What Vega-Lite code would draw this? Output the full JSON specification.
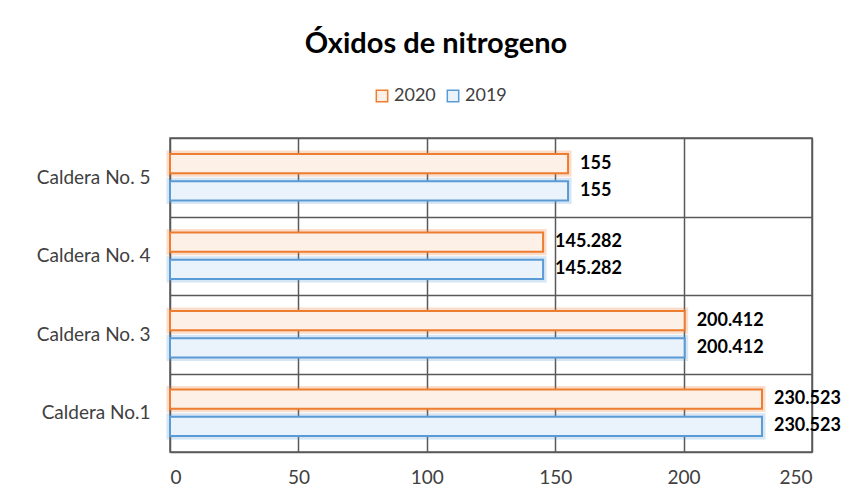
{
  "$schema": "https://vega.github.io/schema/vega-lite/v6.json",
  "width": 642,
  "height": 314,
  "autosize": "none",
  "padding": {"left": 170, "top": 138, "right": 37, "bottom": 46},
  "background": "white",
  "title": {"text": "Óxidos de nitrogeno", "font": "Lato", "fontSize": 29, "fontWeight": "bold", "color": "#000000", "anchor": "middle", "dx": -55, "offset": 28},
  "data": {"values": [
    {"caldera": "Caldera No. 5", "year": "2020", "value": 155, "label": "155"},
    {"caldera": "Caldera No. 5", "year": "2019", "value": 155, "label": "155"},
    {"caldera": "Caldera No. 4", "year": "2020", "value": 145.282, "label": "145.282"},
    {"caldera": "Caldera No. 4", "year": "2019", "value": 145.282, "label": "145.282"},
    {"caldera": "Caldera No. 3", "year": "2020", "value": 200.412, "label": "200.412"},
    {"caldera": "Caldera No. 3", "year": "2019", "value": 200.412, "label": "200.412"},
    {"caldera": "Caldera No.1", "year": "2020", "value": 230.523, "label": "230.523"},
    {"caldera": "Caldera No.1", "year": "2019", "value": 230.523, "label": "230.523"}
  ]},
  "encoding": {
    "y": {"field": "caldera", "type": "nominal", "sort": ["Caldera No. 5", "Caldera No. 4", "Caldera No. 3", "Caldera No.1"],
      "scale": {"paddingInner": 0, "paddingOuter": 0},
      "axis": {"title": null, "ticks": false, "domain": false, "grid": true, "tickBand": "extent", "gridColor": "#595959", "gridWidth": 1.5, "labelFont": "Lato", "labelFontSize": 19, "labelColor": "#404040", "labelPadding": 20}},
    "yOffset": {"field": "year", "type": "nominal", "sort": ["2020", "2019"], "scale": {"paddingInner": 0.3, "paddingOuter": 0.58}},
    "x": {"field": "value", "type": "quantitative", "scale": {"domain": [0, 250], "nice": false},
      "axis": {"title": null, "values": [0, 50, 100, 150, 200, 250], "ticks": false, "domain": false, "grid": true, "gridColor": "#595959", "gridWidth": 1.5, "labelFont": "Lato", "labelFontSize": 19, "labelColor": "#404040", "labelPadding": 16}}
  },
  "layer": [
    {
      "mark": {"type": "bar", "fill": "transparent", "strokeWidth": 7, "strokeOpacity": 0.25},
      "encoding": {
        "stroke": {"field": "year", "type": "nominal", "scale": {"domain": ["2020", "2019"], "range": ["#ED7D31", "#5B9BD5"]},
          "legend": {"orient": "none", "legendX": 203, "legendY": -51, "direction": "horizontal", "title": null, "symbolType": "square", "symbolSize": 130, "symbolStrokeWidth": 1.5, "symbolFillColor": "white", "labelFont": "Lato", "labelFontSize": 18, "labelColor": "#404040", "columnPadding": 8, "labelOffset": 3}}
      }
    },
    {
      "mark": {"type": "bar", "strokeWidth": 2},
      "encoding": {
        "stroke": {"field": "year", "type": "nominal"},
        "fill": {"field": "year", "type": "nominal", "scale": {"domain": ["2020", "2019"], "range": ["#fdf0e7", "#eaf2fb"]}, "legend": null}
      }
    },
    {
      "mark": {"type": "text", "align": "left", "dx": 12, "font": "Lato", "fontSize": 18, "fontWeight": "bold", "color": "#000000"},
      "encoding": {"text": {"field": "label", "type": "nominal"}}
    }
  ],
  "config": {"view": {"stroke": "#595959", "strokeWidth": 1.5}}
}
